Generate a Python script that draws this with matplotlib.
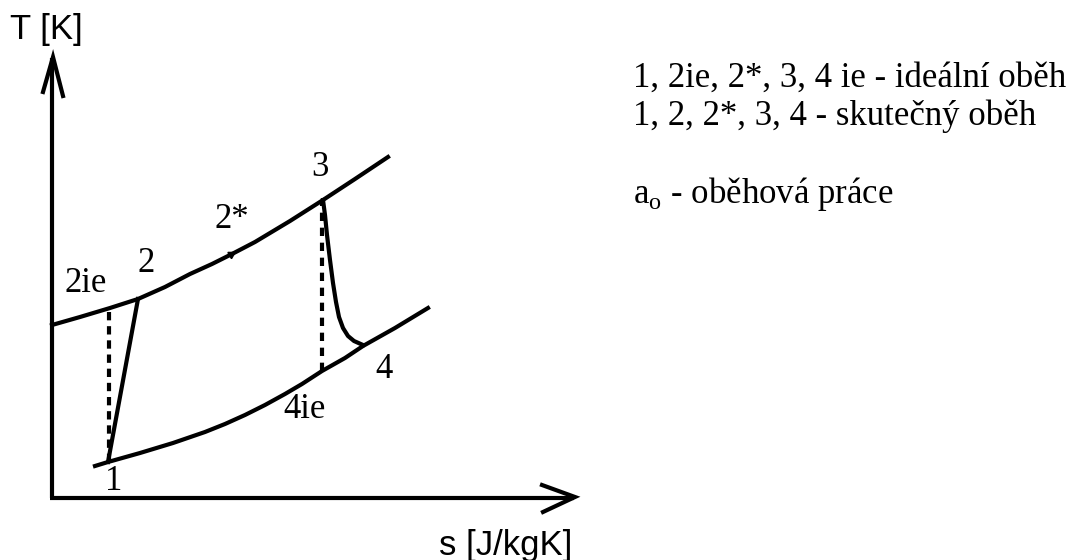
import numpy as np
import matplotlib.pyplot as plt

# T-s diagram, coordinates in picture units (x to the right, y downwards)
t_axis_x = [52, 52]
t_axis_y = [498, 58]
t_head_x = [43, 53, 63]
t_head_y = [92, 57, 96]
s_axis_x = [50, 574]
s_axis_y = [498, 498]
s_head_x = [542, 575, 543]
s_head_y = [485, 497, 512]

# upper isobar (2ie - 2 - 2* - 3)
upper_x = [52, 80, 110, 138, 165, 190, 212, 232, 255, 290, 323, 355, 388]
upper_y = [325, 317, 308, 299, 287, 274, 264, 254, 242, 221, 200, 179, 157]
# lower isobar (1 - 4ie - 4)
lower_x = [95, 108, 140, 173, 205, 225, 245, 265, 285, 302, 322, 345, 363, 395, 428]
lower_y = [466, 462, 453, 443, 432, 424, 415, 405, 394, 384, 371, 358, 346, 328, 308]

# compression 1 -> 2 and expansion 3 -> 4
comp_x = [108, 138]
comp_y = [462, 299]
exp_x = [323, 325, 327, 330, 333, 336, 339, 343, 348, 354, 363]
exp_y = [200, 215, 235, 260, 283, 302, 317, 328, 336, 341, 345]

# ideal (isentropic) lines
ideal_comp_x = [109, 109]
ideal_comp_y = [462, 308]
ideal_exp_x = [322, 322]
ideal_exp_y = [371, 200]

point_labels = ['2ie', '2', '2*', '3', '1', '4ie', '4']
label_x = [86, 146, 232, 320, 114, 305, 384]
label_y = [284, 263, 219, 167, 481, 410, 369]

legend_lines = ['1, 2ie, 2*, 3, 4 ie - ideální oběh',
                '1, 2, 2*, 3, 4 - skutečný oběh',
                'a$_{\\mathregular{o}}$ - oběhová práce']
legend_base = [87, 125, 203]

serif = ['Liberation Serif', 'DejaVu Serif']
sans = ['Liberation Sans', 'DejaVu Sans']

plt.rcParams['mathtext.fontset'] = 'custom'
plt.rcParams['mathtext.rm'] = 'Liberation Serif'

fig = plt.figure(figsize=(10.76, 5.6), dpi=100)
ax = fig.add_axes([0, 0, 1, 1])
ax.set_xlim(0, 1076)
ax.set_ylim(560, 0)
ax.axis('off')

lw = 3.0
ax.plot(t_axis_x, t_axis_y, color='black', lw=lw, solid_capstyle='butt')
ax.plot(t_head_x, t_head_y, color='black', lw=lw, solid_joinstyle='miter')
ax.plot(s_axis_x, s_axis_y, color='black', lw=lw, solid_capstyle='butt')
ax.plot(s_head_x, s_head_y, color='black', lw=lw, solid_joinstyle='miter')

ax.plot(upper_x, upper_y, color='black', lw=lw, solid_joinstyle='round')
ax.plot(lower_x, lower_y, color='black', lw=lw, solid_joinstyle='round')
ax.plot(comp_x, comp_y, color='black', lw=lw)
ax.plot(exp_x, exp_y, color='black', lw=lw, solid_joinstyle='round')
ax.plot(ideal_comp_x, ideal_comp_y, color='black', lw=lw, linestyle=(0, (2.0, 1.4)))
ax.plot(ideal_exp_x, ideal_exp_y, color='black', lw=lw, linestyle=(0, (2.0, 1.6)))
# small mark at 2*
ax.plot([231], [254], marker=(3, 0, -60), color='black', markersize=6)

for lab, x, y in zip(point_labels, label_x, label_y):
    ax.text(x, y, lab, family=serif, fontsize=25, ha='center', va='center')

ax.text(10, 29, 'T [K]', family=sans, fontsize=25, ha='left', va='center')
ax.text(439, 545, 's [J/kgK]', family=sans, fontsize=25, ha='left', va='center')

for line, yb in zip(legend_lines, legend_base):
    ax.text(633, yb, line, family=serif, fontsize=25, ha='left', va='baseline')

fig.savefig('out.png', dpi=100)
